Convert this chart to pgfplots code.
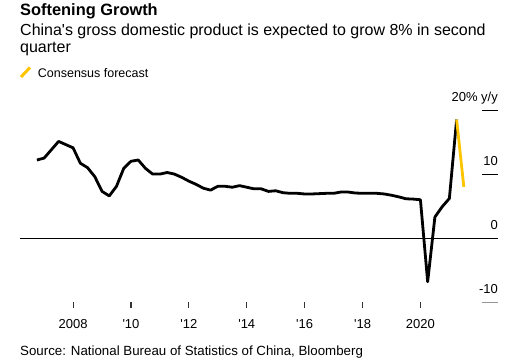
\documentclass[border=0pt]{standalone}
\usepackage{fontspec}
\setmainfont{Liberation Sans}
\usepackage{pgfplots}
\pgfplotsset{compat=1.18}
\definecolor{fcyellow}{RGB}{252,197,0}
\definecolor{tickgray}{RGB}{150,150,150}
\begin{document}
\begin{tikzpicture}[x=1pt,y=1pt]
\path[use as bounding box] (0,0) rectangle (517,361);
\node[anchor=base west, inner sep=0, font=\bfseries\fontsize{16.4}{19}\selectfont] at (20,345) {Softening Growth};
\node[anchor=base west, inner sep=0, font=\fontsize{16}{18}\selectfont] at (20,325.7) {China\textquotesingle s gross domestic product is expected to grow 8\% in second};
\node[anchor=base west, inner sep=0, font=\fontsize{16}{18}\selectfont] at (20,308) {quarter};
\draw[fcyellow, line width=3pt] (21,284) -- (30,293.5);
\node[anchor=base west, inner sep=0, font=\fontsize{12.5}{15}\selectfont] at (37.7,283.7) {Consensus forecast};
\node[anchor=base west, inner sep=0, font=\fontsize{13.3}{15}\selectfont] at (20,5) {Source: National Bureau of Statistics of China, Bloomberg};
\foreach \tx in {73.08,130.97,188.86,246.75,304.64,362.53,420.42}
  \draw[black!80, line width=1.1pt] (\tx,58.5) -- (\tx,53);
\begin{axis}[
  at={(20pt,58.7pt)}, anchor=south west,
  scale only axis, width=478pt, height=192.3pt,
  xmin=2006.166, xmax=2022.68, ymin=-10, ymax=20,
  clip=false,
  axis line style={draw=none},
  xtick={2008,2010,...,2020},
  xticklabels={2008,\textquotesingle 10,\textquotesingle 12,\textquotesingle 14,\textquotesingle 16,\textquotesingle 18,2020},
  ytick=\empty,
  xtick pos=bottom,
  tick align=outside,
  major tick length=5pt,
  xtick style={draw=none},
  xticklabel style={font=\fontsize{13}{15}\selectfont, inner sep=0pt, anchor=north, yshift=-12pt},
]
\draw[black, line width=0.9pt] (axis cs:2006.166,0) -- (axis cs:2022.68,0);
\draw[black, line width=0.9pt] (axis cs:2022.13,20) -- (axis cs:2022.68,20);
\draw[black, line width=0.9pt] (axis cs:2022.13,10) -- (axis cs:2022.68,10);
\draw[tickgray, line width=1.5pt] (axis cs:2022.13,-10) -- (axis cs:2022.68,-10);
\node[anchor=base east, inner sep=0, yshift=8.3pt, font=\fontsize{13}{15}\selectfont] at (axis cs:2022.68,20) {20\% y/y};
\node[anchor=base east, inner sep=0, yshift=8.3pt, font=\fontsize{13}{15}\selectfont] at (axis cs:2022.68,10) {10};
\node[anchor=base east, inner sep=0, yshift=8.3pt, font=\fontsize{13}{15}\selectfont] at (axis cs:2022.68,0) {0};
\node[anchor=base east, inner sep=0, yshift=8.3pt, font=\fontsize{13}{15}\selectfont] at (axis cs:2022.68,-10) {-10};
\addplot[black, line width=2.8pt, line join=round, mark=none] table {
2006.75 12.2
2007.00 12.5
2007.25 13.8
2007.50 15.1
2007.75 14.6
2008.00 14.1
2008.25 11.7
2008.50 11.0
2008.75 9.6
2009.00 7.3
2009.25 6.6
2009.50 8.1
2009.75 10.9
2010.00 12.0
2010.25 12.2
2010.50 10.9
2010.75 10.0
2011.00 10.0
2011.25 10.25
2011.50 10.0
2011.75 9.5
2012.00 8.9
2012.25 8.4
2012.50 7.8
2012.75 7.5
2013.00 8.1
2013.25 8.1
2013.50 7.95
2013.75 8.2
2014.00 7.95
2014.25 7.7
2014.50 7.7
2014.75 7.3
2015.00 7.4
2015.25 7.1
2015.50 7.0
2015.75 7.0
2016.00 6.9
2016.25 6.9
2016.50 6.95
2016.75 7.0
2017.00 7.0
2017.25 7.2
2017.50 7.2
2017.75 7.05
2018.00 7.0
2018.25 7.0
2018.50 7.0
2018.75 6.9
2019.00 6.7
2019.25 6.45
2019.50 6.15
2019.75 6.1
2020.00 6.0
2020.25 -6.8
2020.50 3.3
2020.75 4.9
2021.00 6.2
2021.25 18.5
};
\addplot[fcyellow, line width=2.8pt, mark=none] coordinates {(2021.25,18.5) (2021.50,8.0)};
\end{axis}
\end{tikzpicture}
\end{document}
